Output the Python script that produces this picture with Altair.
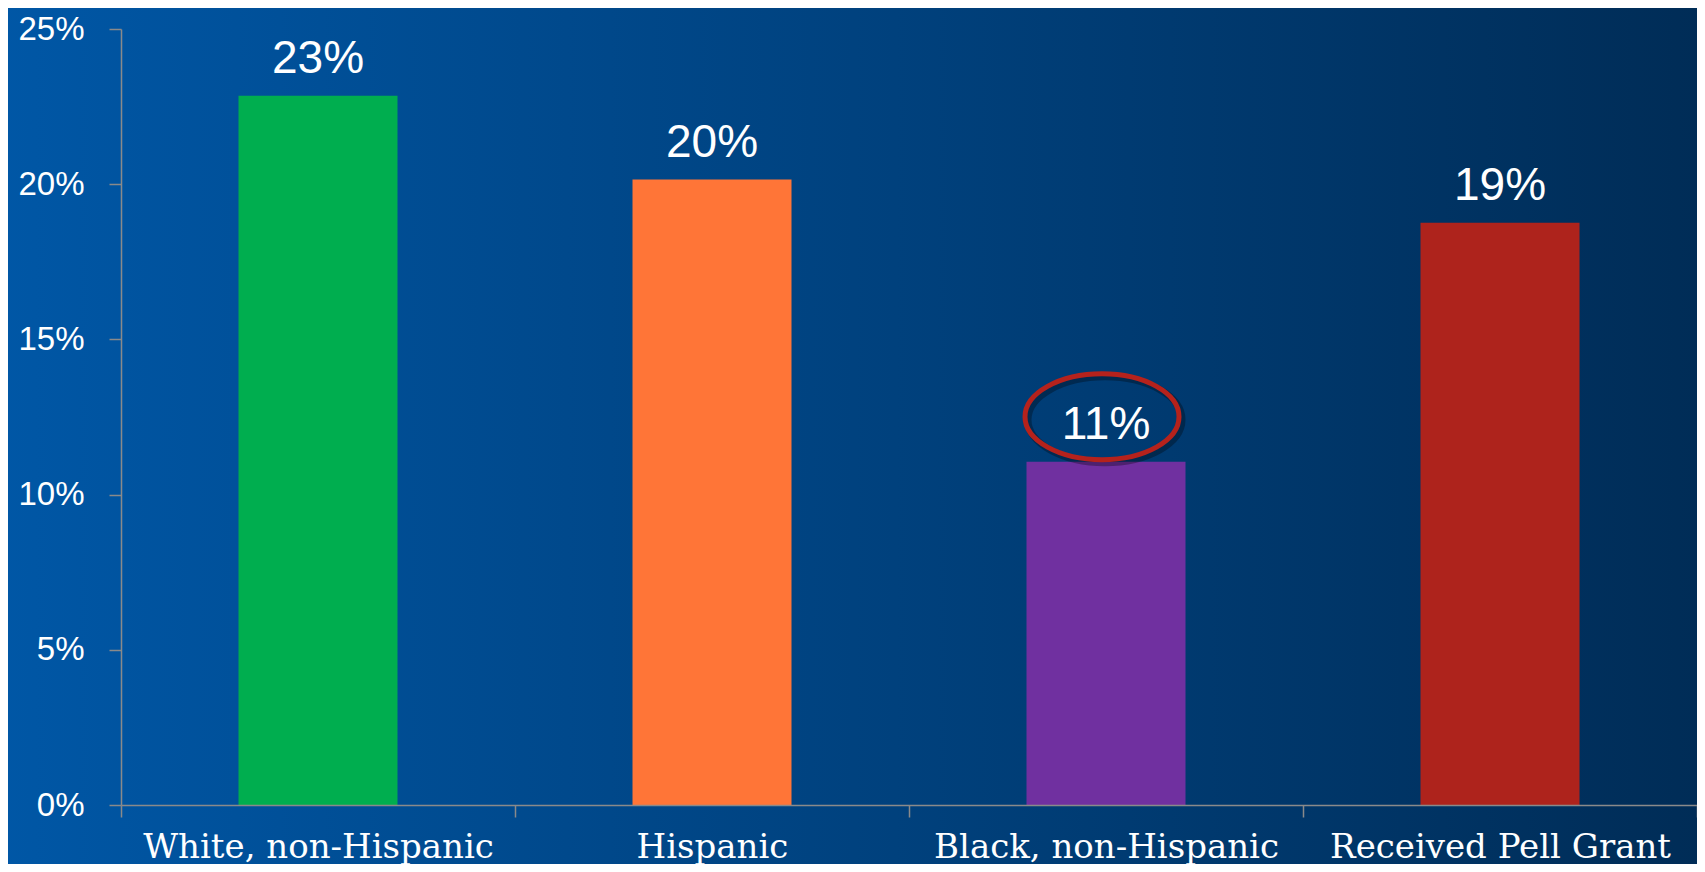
import altair as alt
import pandas as pd

categories = ["White, non-Hispanic", "Hispanic", "Black, non-Hispanic", "Received Pell Grant"]
values = [0.2285, 0.2015, 0.1106, 0.1876]
labels = ["23%", "20%", "11%", "19%"]
bar_colors = ["#00AE4F", "#FF7537", "#7030A0", "#AE231C"]
highlight = ["Black, non-Hispanic"]
y_ticks = [0, 0.05, 0.10, 0.15, 0.20, 0.25]

W, H = 1576, 776

df = pd.DataFrame({"category": categories, "value": values, "label": labels, "color": bar_colors})
hl = df[df["category"].isin(highlight)]

ELLIPSE = ("M 1 0 C 1 0.308 0.552 0.558 0 0.558 C -0.552 0.558 -1 0.308 -1 0 "
           "C -1 -0.308 -0.552 -0.558 0 -0.558 C 0.552 -0.558 1 -0.308 1 0 Z")

x = alt.X(
    "category:N",
    sort=categories,
    scale=alt.Scale(paddingInner=0, paddingOuter=0),
    axis=alt.Axis(
        title=None, labelAngle=0, tickBand="extent", tickSize=12, tickWidth=1.5,
        tickColor="#8a8a8a", domainColor="#8a8a8a", domainWidth=1.5,
        labelFont="DejaVu Serif", labelFontSize=34, labelColor="white",
        labelPadding=13, labelLimit=0, zindex=1,
    ),
)
y = alt.Y(
    "value:Q",
    scale=alt.Scale(domain=[0, 0.25]),
    axis=alt.Axis(
        title=None, values=y_ticks, format=".0%", grid=False, tickSize=12, tickWidth=1.5,
        tickColor="#8a8a8a", domainColor="#8a8a8a", domainWidth=1.5,
        labelFont="Liberation Sans", labelFontSize=33, labelColor="white",
        labelPadding=25, zindex=1,
    ),
)

gradient = alt.LinearGradient(
    gradient="linear",
    stops=[
        alt.GradientStop(offset=0, color="#0057A6"),
        alt.GradientStop(offset=0.5, color="#00427F"),
        alt.GradientStop(offset=1, color="#002C56"),
    ],
    x1=0, x2=1, y1=0, y2=0,
)

bg = alt.Chart(pd.DataFrame({"bg": [0]})).mark_rect(fill=gradient).encode(
    x=alt.value(-130), x2=alt.value(W + 20), y=alt.value(-30), y2=alt.value(H + 80)
)

base = alt.Chart(df)
bars = base.mark_bar(size=159).encode(x=x, y=y, color=alt.Color("color:N", scale=None))
text = base.mark_text(
    dy=-23, baseline="alphabetic", fontSize=46, color="white", font="Liberation Sans"
).encode(x=x, y=y, text="label:N")

hl_base = alt.Chart(hl)
shadow = hl_base.mark_point(
    shape=ELLIPSE, size=154 ** 2, filled=False, color="black", opacity=0.3,
    strokeWidth=7, xOffset=-1, yOffset=-42,
).encode(x=x, y=y)
ellipse = hl_base.mark_point(
    shape=ELLIPSE, size=154 ** 2, filled=False, color="#B5221C", opacity=1,
    strokeWidth=5, xOffset=-4, yOffset=-45,
).encode(x=x, y=y)

chart = alt.layer(bg, bars, text, shadow, ellipse).properties(
    width=W, height=H,
    padding={"left": 113, "top": 21, "right": 0, "bottom": 59},
    autosize=alt.AutoSizeParams(type="none"),
    background="#00407C",
).configure_view(stroke=None)

chart.save("out.html", embed_options={"renderer": "svg", "actions": False})
